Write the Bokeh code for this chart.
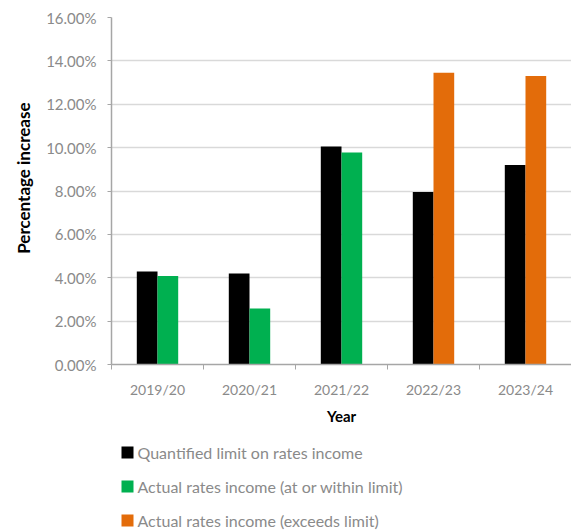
from bokeh.plotting import figure
from bokeh.layouts import column
from bokeh.models import (Range1d, LinearAxis, FixedTicker, PrintfTickFormatter,
                          ColumnDataSource, Grid, Title)
from bokeh.core.properties import value
from bokeh.embed import file_html
from bokeh.resources import INLINE

years = ["2019/20", "2020/21", "2021/22", "2022/23", "2023/24"]
limit = [4.29, 4.20, 10.05, 7.95, 9.20]
actual_within_years = ["2019/20", "2020/21", "2021/22"]
actual_within = [4.08, 2.58, 9.78]
actual_exceeds_years = ["2022/23", "2023/24"]
actual_exceeds = [13.45, 13.30]
y_ticks = [0, 2, 4, 6, 8, 10, 12, 14, 16]
series_labels = ["Quantified limit on rates income",
                 "Actual rates income (at or within limit)",
                 "Actual rates income (exceeds limit)"]
series_colors = ["#000000", "#00b050", "#e36c0a"]

FONT = "Lato"
GREY_TXT = "#8a8a8a"
AXIS_GREY = "#a6a6a6"
BAR_W = 0.225
OFF = 0.1125
LEFT = 111

pos = {y: i + 0.5 for i, y in enumerate(years)}

p = figure(width=571, height=442, output_backend="svg", toolbar_location=None,
           x_range=Range1d(0, len(years)), y_range=Range1d(0, 16),
           x_axis_type=None, y_axis_type=None,
           min_border_left=LEFT, min_border_right=0, min_border_top=17,
           min_border_bottom=78)
p.outline_line_color = None

src_limit = ColumnDataSource(dict(x=[pos[y] - OFF for y in years], top=limit))
src_within = ColumnDataSource(dict(x=[pos[y] + OFF for y in actual_within_years], top=actual_within))
src_exceeds = ColumnDataSource(dict(x=[pos[y] + OFF for y in actual_exceeds_years], top=actual_exceeds))

p.vbar(x="x", top="top", width=BAR_W, source=src_limit, fill_color=series_colors[0], line_color=None)
p.vbar(x="x", top="top", width=BAR_W, source=src_within, fill_color=series_colors[1], line_color=None)
p.vbar(x="x", top="top", width=BAR_W, source=src_exceeds, fill_color=series_colors[2], line_color=None)

# y axis
yax = LinearAxis(ticker=FixedTicker(ticks=y_ticks),
                 formatter=PrintfTickFormatter(format="%.2f%%"))
yax.axis_line_color = AXIS_GREY
yax.axis_line_width = 1.5
yax.major_tick_line_color = AXIS_GREY
yax.major_tick_out = 4
yax.major_tick_in = 0
yax.minor_tick_line_color = None
yax.major_label_text_font = FONT
yax.major_label_text_font_size = "15px"
yax.major_label_text_color = GREY_TXT
yax.major_label_standoff = 11
p.add_layout(yax, "left")

ytitle = Title(text="Percentage increase", align="right", offset=85,
               text_font=FONT, text_font_style="bold", text_font_size="17px",
               text_color="#000000", standoff=19)
p.add_layout(ytitle, "left")

# x axis: year labels at centres, tick marks at category boundaries
xl = LinearAxis(ticker=FixedTicker(ticks=[pos[y] for y in years],
                                   minor_ticks=list(range(len(years) + 1))),
                major_label_overrides={pos[y]: y for y in years})
xl.axis_line_color = AXIS_GREY
xl.axis_line_width = 1.5
xl.major_tick_line_color = None
xl.major_tick_out = 0
xl.major_tick_in = 0
xl.minor_tick_line_color = AXIS_GREY
xl.minor_tick_out = 5
xl.minor_tick_in = 0
xl.major_label_text_font = FONT
xl.major_label_text_font_size = "14px"
xl.major_label_text_color = GREY_TXT
xl.major_label_standoff = 11
xl.axis_label = "Year"
xl.axis_label_text_font = FONT
xl.axis_label_text_font_style = "bold"
xl.axis_label_text_font_size = "15px"
xl.axis_label_text_color = "#000000"
xl.axis_label_standoff = 6
p.add_layout(xl, "below")

g = Grid(dimension=1, ticker=FixedTicker(ticks=y_ticks), grid_line_color="#d9d9d9", grid_line_width=1.5)
p.add_layout(g)

# legend panel (pixel units relative to the shared frame left edge)
LG_H = 88
lg = figure(width=571, height=LG_H, output_backend="svg", toolbar_location=None,
            x_range=Range1d(0, 571 - LEFT), y_range=Range1d(0, LG_H),
            x_axis_type=None, y_axis_type=None,
            min_border_left=LEFT, min_border_right=0, min_border_top=0, min_border_bottom=0)
lg.outline_line_color = None
lg.grid.visible = False
row_y = [LG_H - 10 - 34 * i for i in range(len(series_labels))]
leg_src = ColumnDataSource(dict(y=row_y, label=series_labels, color=series_colors))
lg.rect(x=16, y="y", width=12, height=12, fill_color="color", line_color=None, source=leg_src)
lg.text(x=26, y="y", text="label", source=leg_src, text_font=value(FONT),
        text_font_size="16px", text_color=GREY_TXT, text_baseline="middle", text_align="left")

layout = column(p, lg, spacing=0)
open("out.html", "w").write(file_html(layout, INLINE))
